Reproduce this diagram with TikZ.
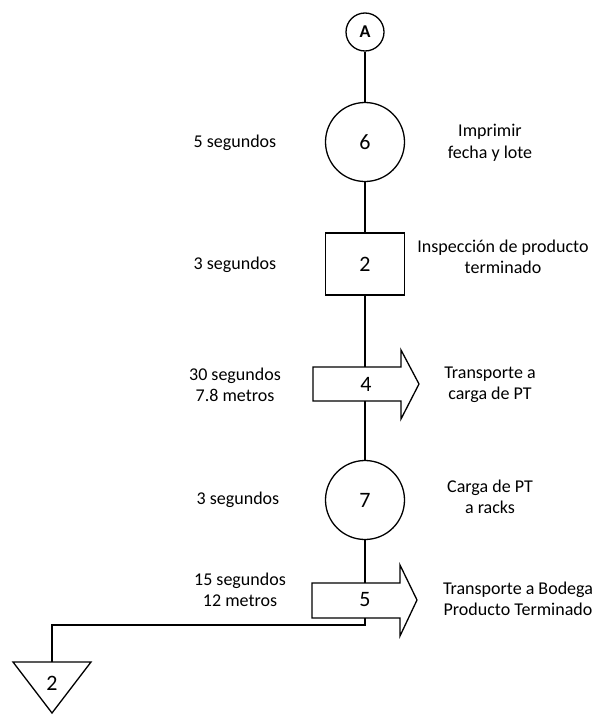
\documentclass[tikz,border=0pt]{standalone}
\usepackage{fontspec}
\setmainfont{Carlito}
\begin{document}
\begin{tikzpicture}[x=1pt,y=-1pt,
  shp/.style={draw, line width=1.3pt, inner sep=0pt},
  circ/.style={shp, circle, minimum size=79pt},
  lbl/.style={align=center, font=\fontsize{18}{21.5}\selectfont},
  num/.style={font=\fontsize{22}{24}\selectfont, inner sep=1pt},
  conn/.style={line width=1.3pt}]
\useasboundingbox (0,0) rectangle (600,723);
% connector A
\node[shp, circle, minimum size=38pt, font=\bfseries\fontsize{18}{20}\selectfont] (a) at (365,32) {A};
\node[circ, num, inner sep=0pt] (c6) at (365,142) {6};
\node[shp, minimum width=79pt, minimum height=62pt, font=\fontsize{22}{24}\selectfont] (s2) at (365,264) {2};
% arrow 4
\coordinate (t4top) at (365,367);
\coordinate (t4bot) at (365,401);
\draw[shp] (313,367) -- (401,367) -- (401,350) -- (419,384) -- (401,419) -- (401,401) -- (313,401) -- cycle;
\node[num] (t4) at (366,384) {4};
\node[circ, num, inner sep=0pt] (c7) at (365,500) {7};
% arrow 5
\coordinate (t5top) at (365,583);
\coordinate (t5bot) at (365,618);
\draw[shp] (312,583) -- (400,583) -- (400,565) -- (417,600) -- (400,636) -- (400,618) -- (312,618) -- cycle;
\node[num] (t5) at (365,600) {5};
% storage triangle
\draw[shp] (13,662) -- (91,662) -- (52,713) -- cycle;
\coordinate (trtop) at (52,662);
\node[num] (st2) at (52,683) {2};
\coordinate (bend1) at (365,625);
\coordinate (bend2) at (52,625);
% connectors
\draw[conn] (a) -- (c6);
\draw[conn] (c6) -- (s2);
\draw[conn] (s2) -- (t4top);
\draw[conn] (t4bot) -- (c7);
\draw[conn] (c7) -- (t5top);
\draw[conn] (t5bot) -- (bend1) -- (bend2) -- (trtop);
% labels
\node[lbl] (l1) at (235,143) {5 segundos};
\node[lbl] (r1) at (490,143) {Imprimir\\fecha y lote};
\node[lbl] (l2) at (235,265) {3 segundos};
\node[lbl] (r2) at (503,257) {Inspección de producto\\terminado};
\node[lbl] (l3) at (235,385) {30 segundos\\7.8 metros};
\node[lbl] (r3) at (490,385) {Transporte a\\carga de PT};
\node[lbl] (l4) at (238,500) {3 segundos};
\node[lbl] (r4) at (490,497) {Carga de PT\\a racks};
\node[lbl] (l5) at (240,590) {15 segundos\\12 metros};
\node[lbl] (r5) at (518,599) {Transporte a Bodega\\Producto Terminado};
\end{tikzpicture}
\end{document}
